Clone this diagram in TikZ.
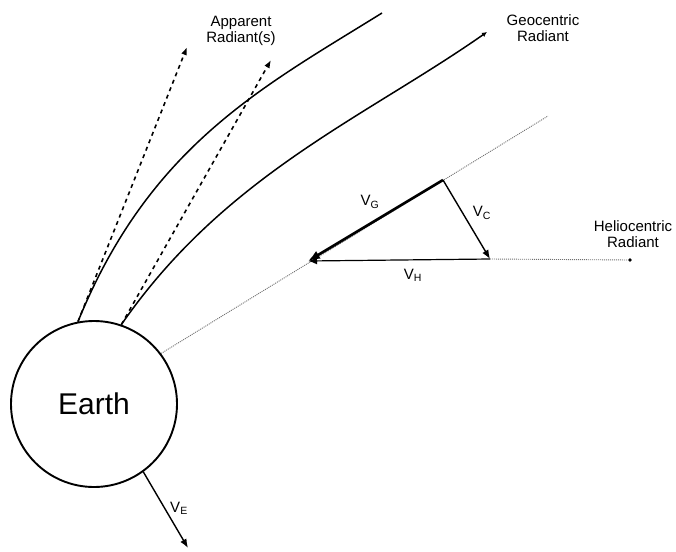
\documentclass[tikz,border=0pt]{standalone}
\usepackage{fontspec}
\setmainfont{Liberation Sans}
\usetikzlibrary{arrows.meta}
\definecolor{cgrey}{HTML}{707070}
\tikzset{
  every picture/.style={line width=1.2pt},
  meteor/.style={draw, line width=1.5pt},
  apparent/.style={-{Latex[length=8pt,width=6pt]}, dash pattern=on 4pt off 4pt, line width=1.6pt},
  vec/.style={-{Latex[length=9pt,width=7pt]}, line width=1.4pt},
  guide/.style={cgrey, line width=0.9pt, dash pattern=on 1pt off 1pt},
  lbl/.style={font=\fontsize{15}{16}\selectfont, align=center, inner sep=1pt},
  vlbl/.style={font=\fontsize{15}{16}\selectfont, inner sep=1pt},
}

\begin{document}
\begin{tikzpicture}[x=1pt, y=-1pt]
  \useasboundingbox (0,0) rectangle (676,551);
  % earth
  \node[draw, circle, line width=1.9pt, minimum size=166pt, inner sep=0pt,
        font=\fontsize{30}{32}\selectfont] (earth) at (94,404) {Earth};
  % free ends
  \coordinate (app1) at (187,47);
  \coordinate (app2) at (271,60);
  \coordinate (tip1) at (382,13);
  \coordinate (geo) at (487,32);
  \coordinate (far) at (548,116);
  \coordinate (top) at (443,180);
  \coordinate (right) at (490,259);
  \coordinate (left) at (308,261);
  \coordinate (ve) at (188,548);
  \node[fill, circle, inner sep=1.4pt] (helio) at (630,260) {};
  % meteor paths
  \draw[meteor] (earth.101) .. controls (150,145) and (263,87) .. (tip1);
  \draw[meteor, -{Latex[length=5pt,width=5pt]}] (earth.71) .. controls (225,175) and (364,118) .. (geo);
  % apparent radiants
  \draw[apparent] (earth.101) -- (app1);
  \draw[apparent] (earth.71) -- (app2);
  % guide lines
  \draw[guide] (earth.37) -- (far);
  \draw[guide] (right) -- (helio);
  % velocity triangle
  \draw[vec, line width=2.6pt, -{Latex[length=12pt,width=9pt]}] (top) -- (left);
  \draw[vec] (top) -- (right);
  \draw[vec, line width=1.2pt] (right) -- (left);
  \draw[vec] (earth.-54) -- (ve);
  % labels
  \node[lbl] (applbl) at (241,31) {Apparent\\Radiant(s)};
  \node[lbl] (geolbl) at (543,28) {Geocentric\\Radiant};
  \node[lbl] (hellbl) at (633,234) {Heliocentric\\Radiant};
  \node[vlbl] (vglbl) at (370,202) {V\textsubscript{G}};
  \node[vlbl] (vclbl) at (482,213) {V\textsubscript{C}};
  \node[vlbl] (vhlbl) at (413,275) {V\textsubscript{H}};
  \node[vlbl] (velbl) at (179,508) {V\textsubscript{E}};
\end{tikzpicture}
\end{document}
